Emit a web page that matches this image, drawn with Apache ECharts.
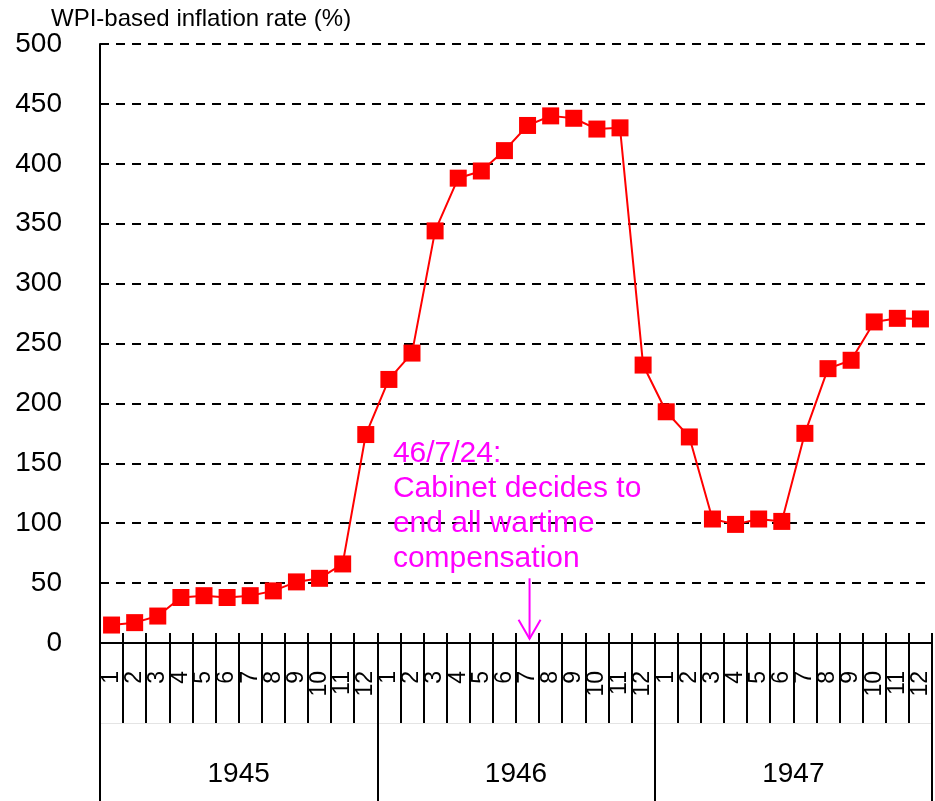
<!DOCTYPE html>
<html lang="en">
<head>
    <meta charset="UTF-8">
    <title>WPI-based inflation rate</title>
    <script type="text/javascript" src="https://cdn.jsdelivr.net/npm/echarts@6/dist/echarts.min.js"></script>
    <style>
        html, body { margin: 0; padding: 0; background: #fff; }
        #container { width: 935px; height: 801px; }
    </style>
</head>
<body>
<div id="container"></div>
<script type="text/javascript">
    // month labels, 3 years x 12 months
    var months = ['1','2','3','4','5','6','7','8','9','10','11','12',
                  '1','2','3','4','5','6','7','8','9','10','11','12',
                  '1','2','3','4','5','6','7','8','9','10','11','12'];
    var years = ['1945', '1946', '1947'];
    // WPI-based inflation rate (%)
    var inflation = [15, 17, 22.5, 38, 39.5, 38, 39.5, 43.5, 51, 54, 66, 174,
                     220, 242, 344, 388, 394, 411, 432, 440, 438, 429, 430, 232,
                     193, 172, 103.5, 99, 103.5, 101.5, 175, 229, 236, 268, 271, 270.5];
    var yTicks = [0, 50, 100, 150, 200, 250, 300, 350, 400, 450, 500];
    var noteText = '46/7/24:\nCabinet decides to\nend all wartime\ncompensation';
    var noteIndex = 18;   // 1946 month 7

    var FONT = '"Liberation Sans", Arial, sans-serif';
    var dom = document.getElementById('container');
    var myChart = echarts.init(dom, null, { renderer: 'canvas' });

    var option = {
        animation: false,
        backgroundColor: '#fff',
        title: {
            text: 'WPI-based inflation rate (%)',
            left: 46,
            top: 2,
            textStyle: { fontFamily: FONT, fontSize: 24, fontWeight: 'normal', color: '#000' }
        },
        grid: { left: 100, right: 3, top: 44, bottom: 158, containLabel: false },
        xAxis: [
            {
                type: 'category',
                position: 'bottom',
                data: months,
                boundaryGap: true,
                axisLine: { show: true, lineStyle: { color: '#000', width: 2 } },
                axisTick: { show: true, length: 80, interval: 0, lineStyle: { color: '#000', width: 2 } },
                axisLabel: {
                    interval: 0, rotate: 90, margin: 28,
                    fontFamily: FONT, fontSize: 23, color: '#000'
                }
            },
            {
                type: 'category',
                position: 'bottom',
                offset: 0,
                data: months,
                boundaryGap: true,
                axisLine: { show: false },
                axisTick: { show: true, inside: true, length: 10, interval: 0, lineStyle: { color: '#000', width: 2 } },
                axisLabel: { show: false }
            },
            {
                type: 'category',
                position: 'bottom',
                offset: 80,
                data: years,
                boundaryGap: true,
                axisLine: { show: true, lineStyle: { color: '#e4e4e4', width: 1 } },
                axisTick: { show: true, length: 78, interval: 0, lineStyle: { color: '#000', width: 2 } },
                axisLabel: { interval: 0, margin: 37, fontFamily: FONT, fontSize: 28, color: '#000' }
            }
        ],
        yAxis: {
            type: 'value',
            min: yTicks[0],
            max: yTicks[yTicks.length - 1],
            interval: 50,
            axisLine: { show: true, lineStyle: { color: '#000', width: 2 } },
            axisTick: { show: true, inside: true, length: 6, lineStyle: { color: '#000', width: 2 } },
            axisLabel: { margin: 38, fontFamily: FONT, fontSize: 28, color: '#000' },
            splitLine: { lineStyle: { color: '#000', width: 2, type: [9, 7] } }
        },
        series: [
            {
                type: 'line',
                data: inflation,
                xAxisIndex: 0,
                symbol: 'rect',
                symbolSize: 17,
                itemStyle: { color: '#ff0000' },
                lineStyle: { color: '#ff0000', width: 2 },
                z: 5
            }
        ]
    };

    myChart.setOption(option);

    // annotation placed from the axes
    var tip = myChart.convertToPixel({ xAxisIndex: 0, yAxisIndex: 0 }, [noteIndex, 3.5]);
    var tail = myChart.convertToPixel({ xAxisIndex: 0, yAxisIndex: 0 }, [noteIndex, 54]);
    var textAnchor = myChart.convertToPixel({ xAxisIndex: 0, yAxisIndex: 0 }, [12, 165]);
    var ax = tip[0] + 2;

    myChart.setOption({
        graphic: [
            {
                type: 'text',
                left: textAnchor[0] + 4,
                top: textAnchor[1] - 9,
                z: 10,
                style: {
                    text: noteText,
                    font: '30px ' + FONT,
                    fill: '#ff00ff',
                    lineHeight: 35
                }
            },
            {
                type: 'polyline',
                z: 10,
                shape: { points: [[ax, tail[1]], [ax, tip[1]]] },
                style: { stroke: '#ff00ff', lineWidth: 2, fill: null }
            },
            {
                type: 'polyline',
                z: 10,
                shape: { points: [[ax - 11, tip[1] - 19], [ax, tip[1]], [ax + 11, tip[1] - 19]] },
                style: { stroke: '#ff00ff', lineWidth: 2, fill: null }
            }
        ]
    });

    window.addEventListener('resize', myChart.resize);
</script>
</body>
</html>
